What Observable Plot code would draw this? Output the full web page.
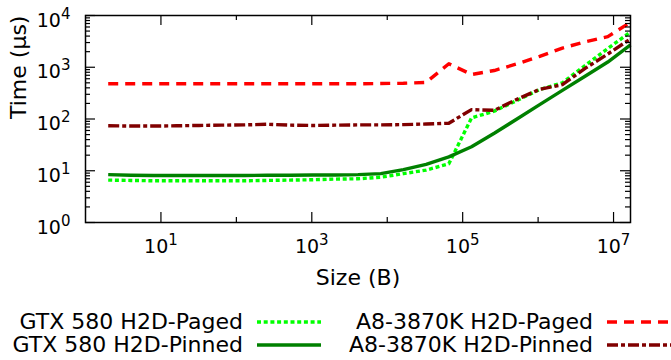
<!DOCTYPE html>
<html><head><meta charset="utf-8">
<script src="https://cdn.jsdelivr.net/npm/d3@7"></script>
<script src="https://cdn.jsdelivr.net/npm/@observablehq/plot@0.6"></script>
<style>
body{margin:0;background:#fff;font-family:"DejaVu Sans",sans-serif;color:#000;}
#wrap{position:relative;width:671px;height:360px;overflow:hidden;}
#legend{position:absolute;left:0;top:300px;width:671px;height:60px;}
.lg{position:absolute;font-size:22px;white-space:nowrap;text-align:right;line-height:24px;}
.sw{position:absolute;}
</style></head><body><div id="wrap"><div id="chart"></div><div id="legend"></div></div>
<script>
const sizes = [2,4,8,16,32,64,128,256,512,1024,2048,4096,8192,16384,32768,65536,131072,262144,524288,1048576,2097152,4194304,8388608,16777216];
const gtxPaged  = [6.6,6.5,6.4,6.4,6.4,6.4,6.4,6.5,6.6,6.7,6.9,7.0,7.5,8.8,10.3,13.6,105,142,228,372,500,1080,2300,4800];
const gtxPinned = [8.4,8.2,8.1,8.1,8.1,8.1,8.1,8.2,8.2,8.3,8.3,8.4,8.8,10.5,13.3,18.5,29,53,100,190,357,670,1260,2700];
const a8Paged   = [480,480,480,480,480,480,480,480,480,480,480,480,485,490,510,1170,725,865,1160,1620,2350,3100,3900,7400];
const a8Pinned  = [74,73,73,74,75,76,77,79,76,75,76,77,77,78,80,83,152,147,240,375,460,950,1800,3540];
const seriesNames = ["GTX 580 H2D-Paged","GTX 580 H2D-Pinned","A8-3870K H2D-Paged","A8-3870K H2D-Pinned"];
const seriesColors = ["#00ff00","#008000","#ff0000","#800000"];
const seriesDashes = ["4,2.7","none","10,7","11,3,4,3"];
const xMajorTicks = [1e1,1e3,1e5,1e7];
const xMinorTicks = [1e2,1e4,1e6];
const yMajorTicks = [1,10,100,1000,10000];
const yMinorTicks = [2,3,4,5,6,7,8,9,20,30,40,50,60,70,80,90,200,300,400,500,600,700,800,900,2000,3000,4000,5000,6000,7000,8000,9000];
const xTitle = "Size (B)";
const yTitle = "Time (µs)";

const allSeries = [gtxPaged, gtxPinned, a8Paged, a8Pinned];
const rows = [];
allSeries.forEach((vals, s) => vals.forEach((v, i) => rows.push({name: seriesNames[s], size: sizes[i], time: v})));

const W = 671, H = 300, mt = 15, mb = 78, ml = 85, mr = 41;
const plotH = H - mt - mb, plotW = W - ml - mr;

const lineMarks = seriesNames.map((n, s) => Plot.line(rows.filter(r => r.name === n), {
  x: "size", y: "time", stroke: seriesColors[s], strokeWidth: 3.4,
  strokeDasharray: seriesDashes[s], strokeLinejoin: "round", strokeLinecap: "butt"
}));

const tickStyle = {stroke: "black", strokeWidth: 1.2};
const chart = Plot.plot({
  width: W, height: H, marginTop: mt, marginBottom: mb, marginLeft: ml, marginRight: mr,
  style: {fontFamily: "DejaVu Sans, sans-serif", fontSize: "19px", color: "black", background: "white"},
  x: {type: "log", domain: [1, 16777216], axis: null},
  y: {type: "log", domain: [1, 10000], axis: null},
  marks: [
    ...lineMarks,
    Plot.ruleX(xMajorTicks, {x: d => d, insetTop: plotH - 10, ...tickStyle}),
    Plot.ruleX(xMajorTicks, {x: d => d, insetBottom: plotH - 10, ...tickStyle}),
    Plot.ruleX(xMinorTicks, {x: d => d, insetTop: plotH - 5, ...tickStyle}),
    Plot.ruleX(xMinorTicks, {x: d => d, insetBottom: plotH - 5, ...tickStyle}),
    Plot.ruleY(yMajorTicks, {y: d => d, insetRight: plotW - 10, ...tickStyle}),
    Plot.ruleY(yMajorTicks, {y: d => d, insetLeft: plotW - 10, ...tickStyle}),
    Plot.ruleY(yMinorTicks, {y: d => d, insetRight: plotW - 5, ...tickStyle}),
    Plot.ruleY(yMinorTicks, {y: d => d, insetLeft: plotW - 5, ...tickStyle}),
    Plot.frame({stroke: "black", strokeWidth: 1.5}),
    Plot.text(xMajorTicks, {x: d => d, frameAnchor: "bottom", dy: 30, text: d => String(Math.round(Math.log10(d))), fill: "black", fontSize: 19}),
    Plot.text(yMajorTicks, {y: d => d, frameAnchor: "left", dx: -15, dy: 5, textAnchor: "end", text: d => String(Math.round(Math.log10(d))), fill: "black", fontSize: 19}),
    Plot.text([xTitle], {frameAnchor: "bottom", dy: 62, text: d => d, fill: "black", fontSize: 22}),
    Plot.text([yTitle], {frameAnchor: "left", dx: -67, rotate: -90, text: d => d, fill: "black", fontSize: 22})
  ]
});
const NS = "http://www.w3.org/2000/svg";
const textGroups = chart.querySelectorAll('g[aria-label="text"]');
[textGroups[0], textGroups[1]].forEach(g => {
  if (!g) return;
  g.querySelectorAll("text").forEach(t => {
    const e = t.textContent;
    t.textContent = "";
    const a = document.createElementNS(NS, "tspan"); a.textContent = "10";
    const b = document.createElementNS(NS, "tspan"); b.textContent = e;
    b.setAttribute("dy", "-8"); b.setAttribute("font-size", "15");
    t.append(a, b);
  });
});
document.getElementById("chart").append(chart);

// legend
const legend = document.getElementById("legend");
const legendPos = [
  {textRight: 243, swX: 257, cy: 22},
  {textRight: 243, swX: 257, cy: 45},
  {textRight: 593, swX: 607, cy: 22},
  {textRight: 593, swX: 607, cy: 45}
];
seriesNames.forEach((n, s) => {
  const p = legendPos[s];
  const d = document.createElement("div");
  d.className = "lg"; d.textContent = n;
  d.style.right = (671 - p.textRight) + "px"; d.style.top = (p.cy - 12) + "px";
  legend.append(d);
  const sv = document.createElementNS(NS, "svg");
  sv.setAttribute("class", "sw"); sv.setAttribute("width", 64); sv.setAttribute("height", 10);
  sv.style.left = p.swX + "px"; sv.style.top = (p.cy - 5) + "px";
  const l = document.createElementNS(NS, "line");
  l.setAttribute("x1", 0); l.setAttribute("x2", 64); l.setAttribute("y1", 5); l.setAttribute("y2", 5);
  l.setAttribute("stroke", seriesColors[s]); l.setAttribute("stroke-width", 3.4);
  if (seriesDashes[s] !== "none") l.setAttribute("stroke-dasharray", seriesDashes[s]);
  sv.append(l);
  legend.append(sv);
});
</script></body></html>
